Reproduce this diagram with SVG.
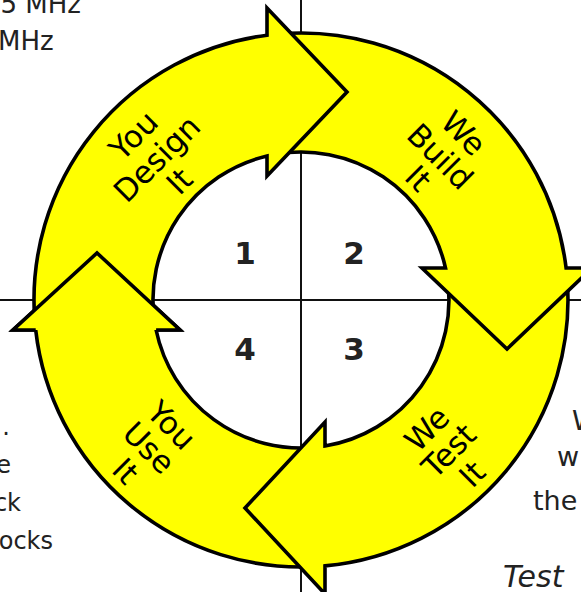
<svg xmlns="http://www.w3.org/2000/svg" width="581" height="592" viewBox="0 0 581 592">
<style>
.ax{stroke:#111;stroke-width:2;fill:none}
.seg{fill:#ffff00;stroke:#000;stroke-width:3.6;stroke-linejoin:miter}
.lbl{font-family:"DejaVu Sans",sans-serif;font-size:31px;fill:#000;text-anchor:middle}
.num{font-family:"DejaVu Sans",sans-serif;font-size:31px;font-weight:bold;fill:#222;text-anchor:middle}
.side{font-family:"DejaVu Sans",sans-serif;font-size:24px;fill:#222}
.side2{font-family:"DejaVu Sans",sans-serif;font-size:26px;fill:#222}
.side3{font-family:"DejaVu Sans",sans-serif;font-size:27px;fill:#222}
.it{font-family:"DejaVu Sans",sans-serif;font-size:30px;font-style:italic;fill:#222}
</style>
<rect width="581" height="592" fill="#fff"/>
<g id="connectors">
<line class="ax" x1="0" y1="300" x2="581" y2="300"/>
<line class="ax" x1="301" y1="0" x2="301" y2="592"/>
</g>
<g id="use-it">
<path class="seg" d="M317,566.5 A267,267 0 0,1 35.7,330 L13,330 L97,253 L180,330 L156.1,330 A148,148 0 0,0 317,447.1 Z"/>
</g>
<g id="test-it">
<path class="seg" d="M566.9,276 A267,267 0 0,1 325,565.9 L325,594 L245,508 L325,422 L325,446 A148,148 0 0,0 447,276 Z"/>
</g>
<g id="build-it">
<path class="seg" d="M275,34.3 A267,267 0 0,1 566.1,268 L592,268 L507,349 L422,268 L445.5,268 A148,148 0 0,0 275,154.3 Z"/>
</g>
<g id="design-it">
<path class="seg" d="M34.9,322 A267,267 0 0,1 267,35.2 L267,8 L347,92 L267,176 L267,156 A148,148 0 0,0 154.6,322 Z"/>
</g>
<g id="use-it-head">
<path class="seg" d="M35.7,330 L13,330 L97,253 L180,330 L156.1,330"/>
</g>
<g id="label-design" transform="translate(301,300) rotate(-45)">
<text class="lbl" x="-2" y="-224">You</text>
<text class="lbl" x="-2" y="-191">Design</text>
<text class="lbl" x="-2" y="-159">It</text>
</g>
<g id="label-build" transform="translate(301,300) rotate(45)">
<text class="lbl" x="-3" y="-222">We</text>
<text class="lbl" x="-3" y="-189">Build</text>
<text class="lbl" x="-3" y="-158">It</text>
</g>
<g id="label-test" transform="translate(301,300) rotate(-45)">
<text class="lbl" x="-2" y="191">We</text>
<text class="lbl" x="-2" y="222">Test</text>
<text class="lbl" x="-2" y="255">It</text>
</g>
<g id="label-use" transform="translate(301,300) rotate(45)">
<text class="lbl" x="-3" y="191">You</text>
<text class="lbl" x="-3" y="223">Use</text>
<text class="lbl" x="-3" y="256">It</text>
</g>
<g id="quadrants">
<text class="num" x="245" y="264">1</text>
<text class="num" x="354" y="264">2</text>
<text class="num" x="354" y="360">3</text>
<text class="num" x="245" y="360">4</text>
</g>
<g id="side-text">
<text class="side2" x="81" y="13" text-anchor="end">5 MHz</text>
<text class="side2" x="-2" y="50">MHz</text>
<text class="side" x="10" y="435" text-anchor="end">.</text>
<text class="side" x="11" y="473" text-anchor="end">e</text>
<text class="side" x="21" y="511" text-anchor="end">ck</text>
<text class="side" x="53" y="549" text-anchor="end">ocks</text>
<text class="side3" x="572" y="430">W</text>
<text class="side3" x="557" y="466">w</text>
<text class="side3" x="533" y="510">the</text>
<text class="it" x="503" y="587">Test</text>
</g>
</svg>
